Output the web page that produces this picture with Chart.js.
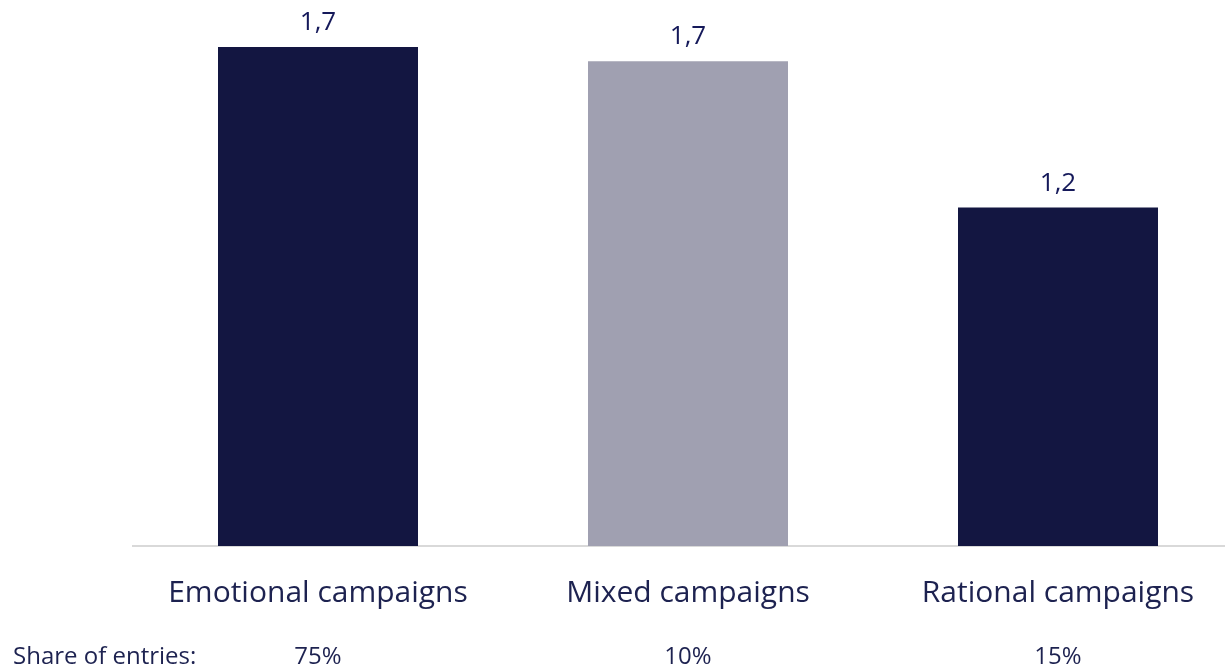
<!DOCTYPE html>
<html lang="en">
<head>
  <meta charset="UTF-8">
  <title>Campaign effectiveness</title>
  <script src="https://cdn.jsdelivr.net/npm/chart.js"></script>
  <style>
    html, body { margin: 0; padding: 0; background: #ffffff; overflow: hidden; }
    #wrap { position: relative; width: 1243px; height: 670px; }
  </style>
</head>
<body>
  <div id="wrap"><canvas id="effectChart"></canvas></div>

  <script>
    // chart data
    const categories = ['Emotional campaigns', 'Mixed campaigns', 'Rational campaigns'];
    const effectValues = [1.74, 1.69, 1.18];
    const shareOfEntries = ['75%', '10%', '15%'];
    const shareLabel = 'Share of entries:';
    const barColors = ['#131641', '#a0a0b1', '#131641'];

    const FONT = "'Open Sans', 'Noto Sans', sans-serif";
    const TEXT = '#1d2250';

    // value labels above bars + the share row under the axis
    const extraLabels = {
      id: 'extraLabels',
      afterDatasetsDraw(chart) {
        const { ctx } = chart;
        const meta = chart.getDatasetMeta(0);
        ctx.save();
        ctx.textAlign = 'center';
        ctx.textBaseline = 'alphabetic';
        ctx.fillStyle = '#15195a';
        ctx.font = `26px ${FONT}`;
        meta.data.forEach((bar, i) => {
          const txt = effectValues[i].toFixed(1).replace('.', ',');
          ctx.fillText(txt, bar.x, bar.y - 17);
        });

        ctx.fillStyle = TEXT;
        ctx.font = `24px ${FONT}`;
        ctx.textBaseline = 'middle';
        ctx.textAlign = 'left';
        ctx.fillText(shareLabel, 13, 657);
        ctx.textAlign = 'center';
        meta.data.forEach((bar, i) => {
          ctx.fillText(shareOfEntries[i], bar.x, 657);
        });
        ctx.restore();
      }
    };

    new Chart(document.getElementById('effectChart'), {
      type: 'bar',
      data: {
        labels: categories,
        datasets: [{
          data: effectValues,
          backgroundColor: barColors,
          borderWidth: 0,
          barPercentage: 1,
          categoryPercentage: 200 / 370
        }]
      },
      options: {
        responsive: true,
        maintainAspectRatio: false,
        animation: false,
        layout: { padding: { left: 133, top: 1, right: 0, bottom: 30 } },
        plugins: {
          legend: { display: false },
          tooltip: { enabled: false }
        },
        scales: {
          x: {
            grid: { display: false, drawTicks: false },
            border: { display: true, color: '#d9d9d9', width: 2 },
            ticks: {
              color: TEXT,
              font: { family: FONT, size: 30 },
              padding: 29
            }
          },
          y: {
            display: false,
            min: 0,
            max: 1.9
          }
        }
      },
      plugins: [extraLabels]
    });
  </script>
</body>
</html>
